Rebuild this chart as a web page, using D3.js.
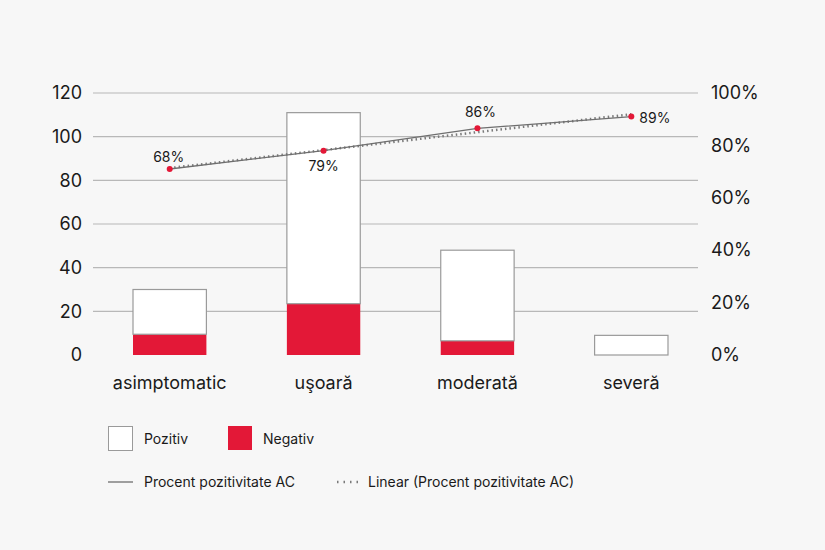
<!DOCTYPE html>
<html>
<head>
<meta charset="utf-8">
<script src="https://cdn.jsdelivr.net/npm/d3@7"></script>
<style>
  body { margin: 0; background: #f7f7f7; }
  svg { font-family: Inter, "Noto Sans", sans-serif; }
</style>
</head>
<body>
<div class="canvas"></div>
<script>
// data
const categories = ['asimptomatic', 'uşoară', 'moderată', 'severă']
const negativ = [9.5, 23.5, 6.5, 0]
const pozitiv = [20.5, 87.5, 41.5, 9]
const procent = [0.71, 0.78, 0.865, 0.91]
const procentLabels = ['68%', '79%', '86%', '89%']
const leftTicks = [0, 20, 40, 60, 80, 100, 120]
const rightTicks = [0, 0.2, 0.4, 0.6, 0.8, 1]

const dims = {width: 825, height: 550}
const red = '#e31837'

const svg = d3.select('.canvas')
    .append('svg')
    .attr('width', dims.width)
    .attr('height', dims.height)

svg.append('rect')
    .attr('width', dims.width)
    .attr('height', dims.height)
    .attr('fill', '#f7f7f7')

const x = d3.scaleBand()
    .domain(categories)
    .range([93, 708])
    .paddingInner(0.523)
    .paddingOuter(0.26)

const y = d3.scaleLinear().domain([0, 120]).range([355, 93])
const y2 = d3.scaleLinear().domain([0, 1]).range([355, 93])

//gridlines (no line at 0)
svg.append('g')
    .selectAll('line')
    .data(leftTicks.filter(d => d > 0))
    .enter().append('line')
    .attr('x1', 93).attr('x2', 698)
    .attr('y1', d => y(d)).attr('y2', d => y(d))
    .attr('stroke', '#b8b8b8')
    .attr('stroke-width', 1.2)

//axes
const leftAxis = d3.axisLeft(y).tickValues(leftTicks).tickSize(0).tickPadding(0)
const gl = svg.append('g').attr('transform', 'translate(82,0)').call(leftAxis)
const rightAxis = d3.axisRight(y2).tickValues(rightTicks).tickSize(0).tickPadding(0)
    .tickFormat(d3.format('.0%'))
const gr = svg.append('g').attr('transform', 'translate(711,0)').call(rightAxis)
;[gl, gr].forEach(g => {
    g.select('.domain').remove()
    g.selectAll('text').attr('font-size', 18).attr('fill', '#1a1a1a')
        .attr('font-family', 'Inter, "Noto Sans", sans-serif')
})

//stacked bars
const stackData = categories.map((c, i) => ({cat: c, Negativ: negativ[i], Pozitiv: pozitiv[i]}))
const stack = d3.stack().keys(['Negativ', 'Pozitiv'])(stackData)
const fills = {Negativ: red, Pozitiv: '#fff'}

stack.forEach(layer => {
    svg.append('g')
        .selectAll('rect')
        .data(layer.filter(d => d[1] > d[0]))
        .enter().append('rect')
        .attr('x', d => x(d.data.cat))
        .attr('width', x.bandwidth())
        .attr('y', d => y(d[1]))
        .attr('height', d => y(d[0]) - y(d[1]))
        .attr('fill', fills[layer.key])
        .attr('stroke', layer.key === 'Pozitiv' ? '#9a9a9a' : 'none')
        .attr('stroke-width', 1.2)
})

//category labels
svg.append('g')
    .selectAll('text')
    .data(categories)
    .enter().append('text')
    .attr('x', d => x(d) + x.bandwidth() / 2)
    .attr('y', 389)
    .attr('text-anchor', 'middle')
    .attr('font-size', 18)
    .attr('fill', '#1a1a1a')
    .text(d => d)

//linear trend of the percent series
const n = procent.length
const mx = d3.mean(d3.range(n))
const my = d3.mean(procent)
const slope = d3.sum(procent, (v, i) => (i - mx) * (v - my)) / d3.sum(d3.range(n), i => (i - mx) ** 2)
const trend = d3.range(n).map(i => my + slope * (i - mx))

const cx = (d, i) => x(categories[i]) + x.bandwidth() / 2
const line = d3.line().x(cx).y(d => y2(d))

svg.append('path')
    .attr('d', line(trend))
    .attr('fill', 'none')
    .attr('stroke', '#7a7a7a')
    .attr('stroke-width', 2.5)
    .attr('stroke-dasharray', '1.5 3')

svg.append('path')
    .attr('d', line(procent))
    .attr('fill', 'none')
    .attr('stroke', '#6f6f6f')
    .attr('stroke-width', 1.3)

svg.append('g')
    .selectAll('circle')
    .data(procent)
    .enter().append('circle')
    .attr('cx', cx)
    .attr('cy', d => y2(d))
    .attr('r', 3)
    .attr('fill', red)

//data labels: above, below, above, right
const labelPos = [
    {dx: -1, dy: -7, anchor: 'middle'},
    {dx: 0, dy: 20, anchor: 'middle'},
    {dx: 3, dy: -11, anchor: 'middle'},
    {dx: 8, dy: 6, anchor: 'start'}
]
svg.append('g')
    .selectAll('text')
    .data(procent)
    .enter().append('text')
    .attr('x', (d, i) => cx(d, i) + labelPos[i].dx)
    .attr('y', (d, i) => y2(d) + labelPos[i].dy)
    .attr('text-anchor', (d, i) => labelPos[i].anchor)
    .attr('font-size', 14)
    .attr('fill', '#1a1a1a')
    .text((d, i) => procentLabels[i])

//legend
const legend = svg.append('g').attr('font-size', 14).attr('fill', '#1a1a1a')
legend.append('rect').attr('x', 108.5).attr('y', 426.5).attr('width', 24).attr('height', 24)
    .attr('fill', '#fff').attr('stroke', '#9a9a9a')
legend.append('text').attr('x', 144).attr('y', 444).text('Pozitiv')
legend.append('rect').attr('x', 228).attr('y', 426).attr('width', 24).attr('height', 24)
    .attr('fill', red)
legend.append('text').attr('x', 263).attr('y', 444).text('Negativ')

legend.append('line').attr('x1', 108).attr('x2', 133).attr('y1', 482).attr('y2', 482)
    .attr('stroke', '#6f6f6f').attr('stroke-width', 1.3)
legend.append('text').attr('x', 144).attr('y', 487).text('Procent pozitivitate AC')
legend.append('line').attr('x1', 337).attr('x2', 361).attr('y1', 482).attr('y2', 482)
    .attr('stroke', '#7a7a7a').attr('stroke-width', 2.5).attr('stroke-dasharray', '1.5 5')
legend.append('text').attr('x', 368).attr('y', 487).text('Linear (Procent pozitivitate AC)')
</script>
</body>
</html>
